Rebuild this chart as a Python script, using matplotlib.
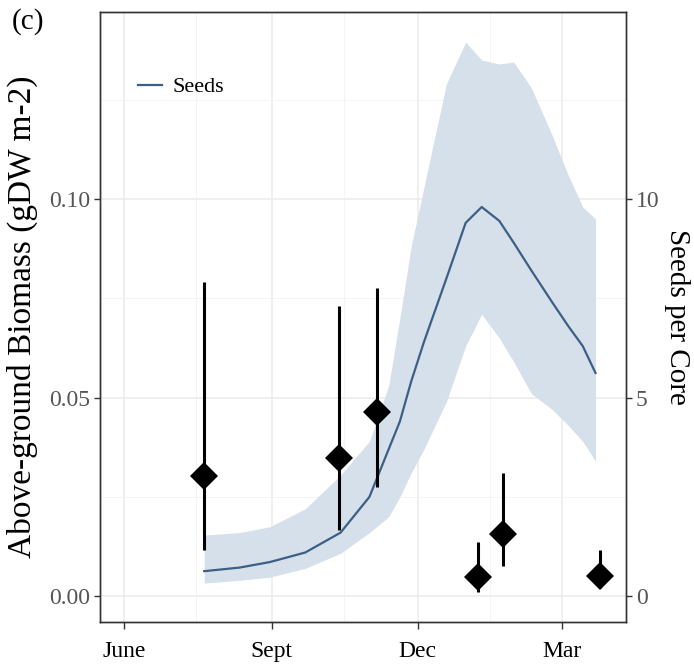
import matplotlib
matplotlib.use("Agg")
import matplotlib.pyplot as plt
import numpy as np
import pandas as pd

plt.rcParams['font.family'] = ['Liberation Serif', 'DejaVu Serif']

# above-ground biomass samples (mean and interval)
bio_dates = pd.to_datetime(['2014-07-21', '2014-10-13', '2014-11-06',
                            '2015-01-08', '2015-01-23', '2015-03-25'])
bio_mean = [0.0302, 0.0348, 0.0463, 0.0048, 0.0156, 0.0050]
bio_low = [0.0116, 0.0166, 0.0275, 0.0010, 0.0076, 0.0020]
bio_high = [0.0790, 0.0730, 0.0776, 0.0136, 0.0310, 0.0116]

# modelled seeds per core with its band
seed_dates = pd.to_datetime(['2014-07-21', '2014-08-12', '2014-08-31', '2014-09-22',
                             '2014-10-14', '2014-11-01', '2014-11-13', '2014-11-20',
                             '2014-11-27', '2014-12-05', '2014-12-19', '2014-12-31',
                             '2015-01-10', '2015-01-21', '2015-01-30', '2015-02-10',
                             '2015-02-23', '2015-03-05', '2015-03-14', '2015-03-22'])
seeds = [0.63, 0.72, 0.86, 1.10, 1.60, 2.50, 3.70, 4.40, 5.40, 6.40,
         8.00, 9.40, 9.80, 9.45, 8.90, 8.20, 7.40, 6.80, 6.30, 5.62]
seeds_low = [0.33, 0.40, 0.48, 0.70, 1.08, 1.60, 2.00, 2.50, 3.10, 3.70,
             4.90, 6.30, 7.10, 6.50, 5.90, 5.10, 4.70, 4.30, 3.90, 3.40]
seeds_high = [1.54, 1.60, 1.75, 2.20, 3.05, 3.90, 5.30, 7.00, 8.80, 10.30,
              12.90, 13.95, 13.50, 13.40, 13.45, 12.80, 11.60, 10.60, 9.80, 9.50]

month_ticks = pd.to_datetime(['2014-06-01', '2014-09-01', '2014-12-01', '2015-03-01'])
month_labels = ['June', 'Sept', 'Dec', 'Mar']
minor_ticks = pd.to_datetime(['2014-07-16', '2014-10-16', '2015-01-15'])

SCALE = 100.0  # seeds axis = biomass axis * SCALE
ylo, yhi = -0.0065, 0.1471
line_col = '#3b5f85'

fig = plt.figure(figsize=(6.94, 6.66), dpi=100)
ax = fig.add_axes([100/694, 44/666, 526/694, 610/666])
ax2 = ax.twinx()

ax.set_zorder(ax2.get_zorder() + 1)
ax.patch.set_visible(False)

# ribbon + line on the seeds axis
ax2.fill_between(seed_dates, seeds_low, seeds_high, color='#d6e0ea', lw=0, zorder=1)
seed_line, = ax2.plot(seed_dates, seeds, color=line_col, lw=1.6, zorder=2)

# biomass points
ax.vlines(bio_dates, bio_low, bio_high, color='black', lw=2.2, zorder=3)
ax.plot(bio_dates, bio_mean, 'D', color='black', ms=14, mew=0, zorder=4)

ax.set_xlim(pd.Timestamp('2014-05-17'), pd.Timestamp('2015-04-10'))
ax.set_ylim(ylo, yhi)
ax2.set_ylim(ylo * SCALE, yhi * SCALE)

ax.set_xticks(month_ticks)
ax.set_xticklabels(month_labels)
ax.set_yticks([0.0, 0.05, 0.10])
ax.set_yticklabels(['0.00', '0.05', '0.10'])
ax2.set_yticks([0, 5, 10])

# grid drawn on the back axes so it sits under the ribbon
for d in month_ticks:
    ax2.axvline(d, color='#ebebeb', lw=1.1, zorder=0)
for d in minor_ticks:
    ax2.axvline(d, color='#f3f3f3', lw=0.6, zorder=0)
for v in [0.0, 0.05, 0.10]:
    ax2.axhline(v * SCALE, color='#ebebeb', lw=1.1, zorder=0)
for v in [0.025, 0.075, 0.125]:
    ax2.axhline(v * SCALE, color='#f3f3f3', lw=0.6, zorder=0)

for a in (ax, ax2):
    for s in a.spines.values():
        s.set_color('#333333')
        s.set_linewidth(1.0)
    a.tick_params(which='major', length=4, width=1, color='#333333',
                  labelcolor='#555555', labelsize=17, pad=3)
ax.tick_params(axis='x', labelcolor='black', labelsize=17, length=5, pad=9)

ax.set_ylabel('Above-ground Biomass (gDW m-2)', fontsize=24, labelpad=8)
ax2.set_ylabel('Seeds per Core', fontsize=21, rotation=-90, labelpad=22)

ax2.legend([seed_line], ['Seeds'], loc='center left', bbox_to_anchor=(0.072, 0.877),
           frameon=False, fontsize=16, handlelength=1.1, handletextpad=0.45,
           borderpad=0, borderaxespad=0)

fig.text(12/694, 1 - 22/666, '(c)', fontsize=21, va='center', ha='left')

fig.savefig('out.png', dpi=100)
